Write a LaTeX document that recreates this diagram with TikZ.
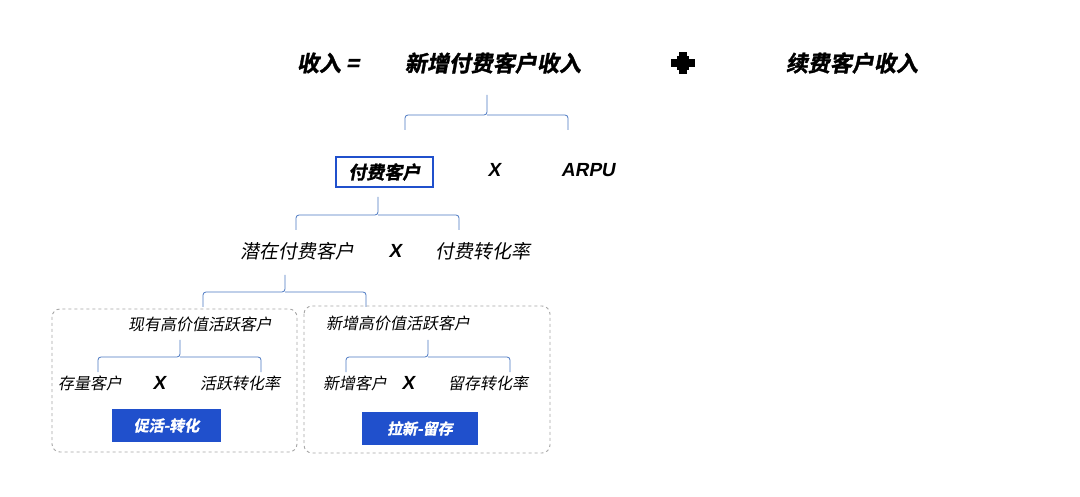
\documentclass[tikz,border=0pt]{standalone}
\usepackage{fontspec}
\newfontfamily\cjk{Noto Sans CJK SC}
\newfontfamily\cjks[FakeSlant=0.18]{Noto Sans CJK SC}
\newfontfamily\cjkb[FakeSlant=0.18,FakeBold=1.5]{Noto Sans CJK SC Bold}
\newfontfamily\latb[FakeSlant=0.18]{Liberation Sans Bold}
\definecolor{bl}{HTML}{2050CC}
\definecolor{br}{HTML}{4A78C2}
\begin{document}
\begin{tikzpicture}[x=1pt,y=-1pt,
  ttl/.style={font=\cjkb\fontsize{22}{22}\selectfont},
  lv/.style={font=\cjks\fontsize{19}{19}\selectfont,inner sep=1pt},
  sm/.style={font=\cjks\fontsize{16}{16}\selectfont,inner sep=1pt},
  xx/.style={font=\latb\fontsize{19}{19}\selectfont},
  brace/.style={draw=br,line width=0.8pt,rounded corners=3pt},
  dbox/.style={draw=gray!70,dashed,line width=0.9pt,rounded corners=8pt},
  tag/.style={fill=bl,text=white,font=\cjkb\fontsize{15}{15}\selectfont,minimum height=33pt,inner sep=0pt}]
\useasboundingbox (0,0) rectangle (1080,497);
\fill[white] (0,0) rectangle (1080,497);
\node[ttl] (t1) at (328,63) {收入 =};
\node[ttl] (t2) at (493,63) {新增付费客户收入};
\fill (677,56) rectangle (689,70);
\fill (683-12,63-4) rectangle (683+12,63+4);
\fill (683-4,63-11) rectangle (683+4,63+11);
\node[ttl] (t3) at (852,63) {续费客户收入};
\coordinate (plus) at (683,63);
% brace 1
\draw[brace] (405,130)--(405,115)--(487,115)--(487,95);
\draw[brace] (487,115)--(568,115)--(568,130);
\node[draw=bl,line width=1.2pt,minimum width=97pt,minimum height=30pt,font=\cjkb\fontsize{18}{18}\selectfont] (pay) at (384.5,172) {付费客户};
\node[xx] (x1) at (494,170) {X};
\node[xx] (arpu) at (588,170) {ARPU};
% brace 2
\draw[brace] (296,230)--(296,215)--(378,215)--(378,197);
\draw[brace] (378,215)--(459,215)--(459,230);
\node[lv] (pot) at (297,251) {潜在付费客户};
\node[xx] (x2) at (395,251) {X};
\node[lv] (rate) at (483,251) {付费转化率};
% brace 3
\draw[brace] (203,307)--(203,292)--(285,292)--(285,275);
\draw[brace] (285,292)--(366,292)--(366,307);
\draw[dbox] (52,309) rectangle (297,452);
\draw[dbox] (304,306) rectangle (550,453);
\node[sm] (hv1) at (200,324) {现有高价值活跃客户};
\node[sm] (hv2) at (398,323) {新增高价值活跃客户};
\draw[brace] (98,372)--(98,357)--(180,357)--(180,340);
\draw[brace] (180,357)--(261,357)--(261,372);
\draw[brace] (346,372)--(346,357)--(428,357)--(428,340);
\draw[brace] (428,357)--(510,357)--(510,372);
\node[sm] (a1) at (90,383) {存量客户};
\node[xx] (x3) at (159,383) {X};
\node[sm] (a2) at (240,383) {活跃转化率};
\node[sm] (b1) at (355,383) {新增客户};
\node[xx] (x4) at (408,383) {X};
\node[sm] (b2) at (488,383) {留存转化率};
\node[tag,minimum width=109pt] (g1) at (166.5,425.5) {促活-转化};
\node[tag,minimum width=116pt] (g2) at (420,428.5) {拉新-留存};
\end{tikzpicture}
\end{document}
